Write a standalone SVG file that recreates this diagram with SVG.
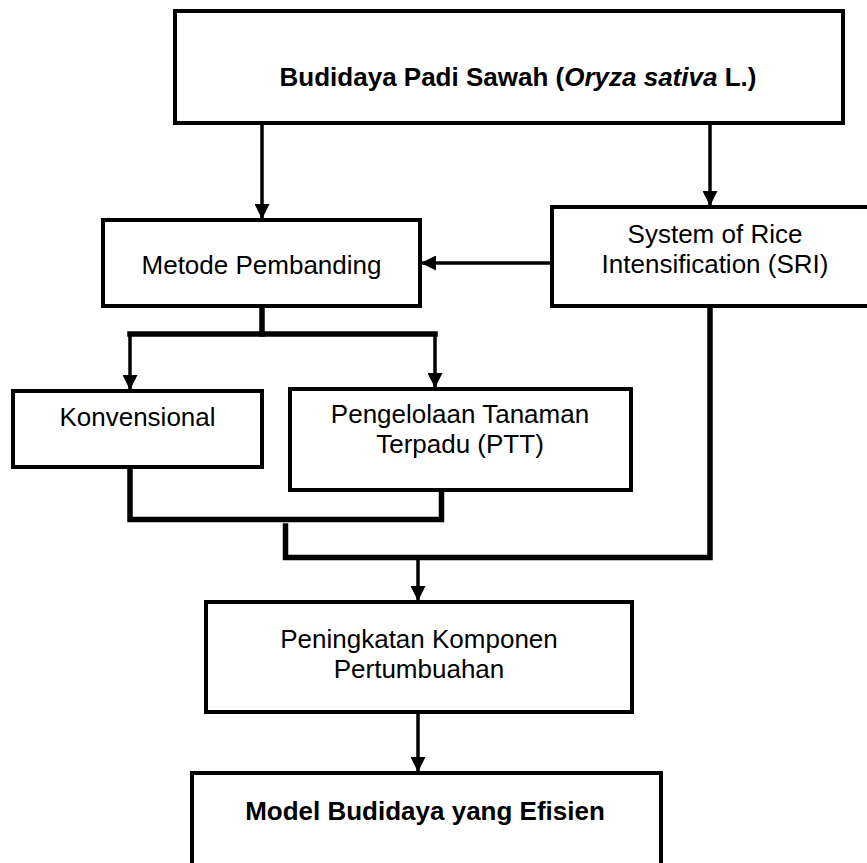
<svg xmlns="http://www.w3.org/2000/svg" width="867" height="863" viewBox="0 0 867 863">
  <defs>
    <marker id="ah" markerUnits="userSpaceOnUse" markerWidth="15" markerHeight="15" refX="15" refY="7.5" orient="auto">
      <path d="M0,0 L15,7.5 L0,15 z" fill="#000"/>
    </marker>
  </defs>
  <style>
    .box { fill: #fff; stroke: #000; stroke-width: 4; }
    .t { font-family: "Liberation Sans", Arial, sans-serif; font-size: 26px; fill: #000; text-anchor: middle; }
    .b { font-weight: bold; }
    .arr { fill: none; stroke: #000; stroke-width: 3.5; marker-end: url(#ah); }
    .bar { fill: none; stroke: #000; stroke-width: 5.5; stroke-linejoin: miter; stroke-linecap: square; }
  </style>
  <rect width="867" height="863" fill="#fff"/>

  <g id="connectors">
    <line class="arr" x1="262" y1="123" x2="262" y2="219"/>
    <line class="arr" x1="710" y1="123" x2="710" y2="206"/>
    <line class="arr" x1="552" y1="263" x2="421" y2="263"/>
    <polyline class="bar" points="262,306 262,334"/>
    <polyline class="bar" points="130,334 435,334"/>
    <line class="arr" x1="130" y1="334" x2="130" y2="390"/>
    <line class="arr" x1="435" y1="334" x2="435" y2="388"/>
    <polyline class="bar" points="130,467 130,519.5 441.5,519.5 441.5,490"/>
    <polyline class="bar" points="285.5,526 285.5,557.5 710,557.5 710,306"/>
    <line class="arr" x1="418" y1="558" x2="418" y2="601"/>
    <line class="arr" x1="418" y1="712" x2="418" y2="772"/>
  </g>

  <g id="node-budidaya">
    <rect class="box" x="175" y="11" width="668" height="112"/>
    <text class="t b" x="518" y="86">Budidaya Padi Sawah (<tspan font-style="italic">Oryza sativa</tspan> L.)</text>
  </g>

  <g id="node-metode">
    <rect class="box" x="103" y="220" width="317" height="86"/>
    <text class="t" x="261.5" y="274">Metode Pembanding</text>
  </g>

  <g id="node-sri">
    <rect class="box" x="552" y="207" width="330" height="99"/>
    <text class="t" x="715" y="243">System of Rice</text>
    <text class="t" x="715" y="273">Intensification (SRI)</text>
  </g>

  <g id="node-konvensional">
    <rect class="box" x="13" y="391" width="249" height="76"/>
    <text class="t" x="137.5" y="426">Konvensional</text>
  </g>

  <g id="node-ptt">
    <rect class="box" x="290" y="389" width="341" height="101"/>
    <text class="t" x="460" y="423">Pengelolaan Tanaman</text>
    <text class="t" x="460" y="453">Terpadu (PTT)</text>
  </g>

  <g id="node-peningkatan">
    <rect class="box" x="206" y="602" width="426" height="110"/>
    <text class="t" x="419" y="648">Peningkatan Komponen</text>
    <text class="t" x="419" y="678">Pertumbuahan</text>
  </g>

  <g id="node-model">
    <rect class="box" x="192" y="773" width="469" height="110"/>
    <text class="t b" x="425" y="820">Model Budidaya yang Efisien</text>
  </g>
</svg>
